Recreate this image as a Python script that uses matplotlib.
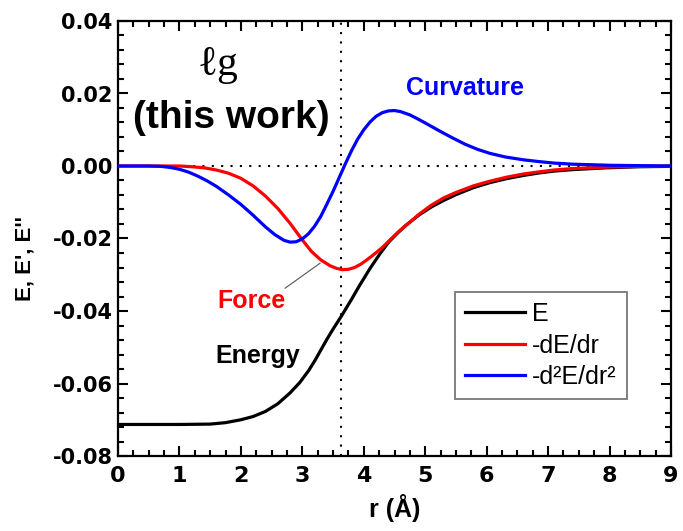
import matplotlib
matplotlib.use('Agg')
import matplotlib.pyplot as plt
from matplotlib.ticker import MultipleLocator, FormatStrFormatter

plt.rcParams['font.family'] = ['Liberation Sans', 'DejaVu Sans']

# energy E(r)
r_E = [0, 1.0, 1.5, 1.75, 2.0, 2.2, 2.4, 2.6, 2.8, 2.96, 3.1, 3.2, 3.3, 3.4, 3.5, 3.64,
       3.8, 3.93, 4.1, 4.26, 4.4, 4.55, 4.69, 4.9, 5.1, 5.3, 5.5, 5.78, 6.05, 6.32, 6.6,
       6.86, 7.1, 7.4, 7.95, 8.5, 9.0]
E = [-0.0713, -0.0713, -0.0712, -0.0708, -0.0700, -0.0691, -0.0677, -0.0656, -0.0626,
     -0.0597, -0.0565, -0.0538, -0.0508, -0.0478, -0.0450, -0.0413, -0.0368, -0.0330,
     -0.0283, -0.0243, -0.0211, -0.0185, -0.0163, -0.0135, -0.0113, -0.0095, -0.0079,
     -0.0060, -0.0046, -0.0035, -0.0026, -0.0019, -0.0014, -0.0010, -0.0005, -0.0002,
     -0.0001]

# force -dE/dr
r_F = [0, 1.0, 1.2, 1.4, 1.6, 1.8, 2.0, 2.2, 2.4, 2.6, 2.8, 3.0, 3.15, 3.3, 3.45, 3.55,
       3.65, 3.75, 3.85, 3.95, 4.05, 4.15, 4.3, 4.45, 4.6, 4.75, 4.9, 5.1, 5.3, 5.5, 5.78,
       6.05, 6.32, 6.6, 6.86, 7.1, 7.4, 7.95, 8.5, 9.0]
F = [0, 0, -0.0002, -0.0005, -0.0011, -0.0020, -0.0034, -0.0055, -0.0083, -0.0117,
     -0.0158, -0.0204, -0.0236, -0.0259, -0.0275, -0.0282, -0.0286, -0.0285, -0.0280,
     -0.0271, -0.0259, -0.0246, -0.0225, -0.0200, -0.0176, -0.0155, -0.0133, -0.0108,
     -0.0088, -0.0073, -0.0055, -0.0042, -0.0031, -0.0022, -0.0016, -0.0011, -0.0007,
     -0.0003, -0.0001, 0]

# curvature -d2E/dr2
r_C = [0, 0.5, 0.7, 0.85, 1.0, 1.15, 1.3, 1.45, 1.6, 1.8, 2.0, 2.2, 2.4, 2.55, 2.7, 2.8,
       2.9, 3.0, 3.1, 3.2, 3.3, 3.4, 3.5, 3.6, 3.7, 3.8, 3.9, 4.0, 4.1, 4.2, 4.3, 4.4, 4.5,
       4.6, 4.75, 4.9, 5.05, 5.24, 5.45, 5.65, 5.85, 6.05, 6.3, 6.6, 6.86, 7.1, 7.4, 8.0,
       8.5, 9.0]
C = [0, 0, -0.0001, -0.0004, -0.0009, -0.0017, -0.0028, -0.0041, -0.0056, -0.0080,
     -0.0106, -0.0136, -0.0168, -0.0189, -0.0205, -0.0210, -0.0209, -0.0201, -0.0187,
     -0.0166, -0.0139, -0.0105, -0.0070, -0.0032, 0.0006, 0.0042, 0.0074, 0.0100, 0.0121,
     0.0137, 0.0147, 0.0152, 0.0153, 0.0150, 0.0141, 0.0128, 0.0114, 0.0096, 0.0077,
     0.0060, 0.0046, 0.0035, 0.0025, 0.0017, 0.0012, 0.0008, 0.0005, 0.0002, 0.0001, 0.0]

fig = plt.figure(figsize=(6.83, 5.31), dpi=100)
ax = fig.add_axes([118 / 683, 75 / 531, 553 / 683, 435 / 531])

ax.axhline(0, color='black', lw=1.5, ls=(0, (1, 3.5)), zorder=1)
ax.axvline(3.63, color='black', lw=1.5, ls=(0, (1, 3.5)), zorder=1)

ax.plot(r_E, E, color='black', lw=2.3, label='E', zorder=3)
ax.plot(r_F, F, color='#ff0000', lw=2.3, label='-dE/dr', zorder=4)
ax.plot(r_C, C, color='#0000ff', lw=2.3, label='-d²E/dr²', zorder=4)

ax.set_xlim(0, 9)
ax.set_ylim(-0.08, 0.04)
ax.xaxis.set_major_locator(MultipleLocator(1))
ax.xaxis.set_minor_locator(MultipleLocator(0.25))
ax.yaxis.set_major_locator(MultipleLocator(0.02))
ax.yaxis.set_minor_locator(MultipleLocator(0.004))
ax.yaxis.set_major_formatter(FormatStrFormatter('%.2f'))

ax.tick_params(which='both', direction='in', top=True, right=True, width=1.5)
ax.tick_params(which='major', length=7)
ax.tick_params(which='minor', length=4)
ax.tick_params(axis='y', pad=4)
ax.tick_params(axis='x', pad=7)
for s in ax.spines.values():
    s.set_linewidth(1.6)
for lab in ax.get_yticklabels():
    lab.set_family('DejaVu Sans')
    lab.set_fontweight('bold')
    lab.set_fontsize(15)
for lab in ax.get_xticklabels():
    lab.set_family('DejaVu Sans')
    lab.set_fontweight('bold')
    lab.set_fontsize(16)

ax.set_xlabel('r (Å)', fontsize=18, fontweight='bold', labelpad=6)
ax.set_ylabel("E, E', E''", fontsize=16, fontweight='bold')
ax.yaxis.set_label_coords(-0.15, 0.455)

# annotations
ax.text(1.63, 0.0279, 'ℓg', fontsize=30, family=['Liberation Serif', 'DejaVu Serif'],
        ha='center', va='center')
ax.text(1.84, 0.0132, '(this work)', fontsize=28, fontweight='bold', ha='center', va='center')
ax.text(5.65, 0.0215, 'Curvature', fontsize=18, fontweight='bold', color='#0000ff',
        ha='center', va='center')
ax.text(2.18, -0.0372, 'Force', fontsize=18, fontweight='bold', color='#ff0000',
        ha='center', va='center')
ax.text(2.28, -0.0524, 'Energy', fontsize=18, fontweight='bold', color='black',
        ha='center', va='center')
ax.plot([2.72, 3.29], [-0.0337, -0.0268], color='#555555', lw=0.8, zorder=2)

leg = ax.legend(loc='upper left', bbox_to_anchor=(0.609, 0.377), borderaxespad=0,
                fontsize=18, handlelength=2.4, handletextpad=0.3, labelspacing=0.3,
                fancybox=False, framealpha=1, edgecolor='#777777', borderpad=0.4)
leg.get_frame().set_linewidth(1.3)

fig.savefig('out.png', dpi=100)
